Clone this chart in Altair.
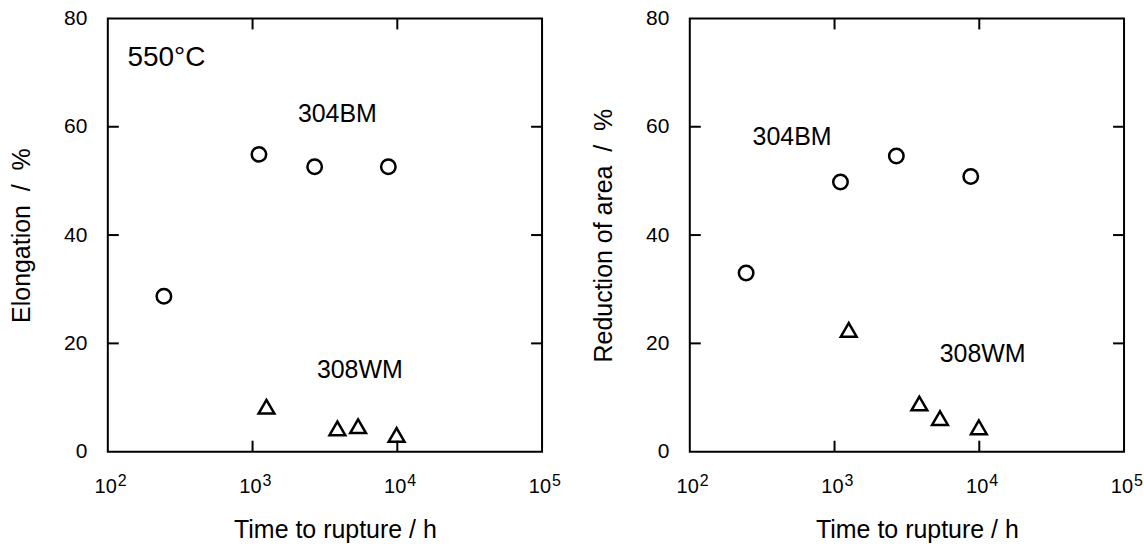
import altair as alt
import pandas as pd

# Creep rupture ductility at 550 degC: type 304 base metal (BM) and type 308 weld metal (WM)
bm_time_el = [244, 1107, 2685, 8670]
bm_elong = [28.7, 54.9, 52.6, 52.6]
wm_time_el = [1248, 3855, 5360, 9885]
wm_elong = [8.3, 4.3, 4.7, 3.1]

bm_time_ra = [245, 1099, 2673, 8730]
bm_ra = [33.0, 49.8, 54.6, 50.8]
wm_time_ra = [1253, 3855, 5350, 9930]
wm_ra = [22.5, 8.9, 6.2, 4.5]

decades = [100, 1000, 10000, 100000]
exponents = ["2", "3", "4", "5"]
x_inner_ticks = [1000, 10000]
y_inner_ticks = [20, 40, 60]
y_label_values = [0, 20, 40, 60, 80]

# annotation text: label, x (h), y (%), font size
notes_el = {"label": ["550°C", "304BM", "308WM"], "t": [254, 3855, 5510],
            "v": [72.7, 62.3, 15.1], "fs": [28, 25, 25]}
notes_ra = {"label": ["304BM", "308WM"], "t": [509, 10544],
            "v": [58.1, 18.0], "fs": [25, 25]}

FONT = "Liberation Sans"
W, H = 435, 434
TICK = 11


def panel(bm_t, bm_v, wm_t, wm_v, y_title, notes):
    xs = alt.Scale(type="log", domain=[100, 100000], nice=False)
    ys = alt.Scale(domain=[0, 80], nice=False)

    x_axis = alt.Axis(labels=False, ticks=False, tickSize=0, domain=False, grid=False,
                      title="Time to rupture / h", titleFont=FONT, titleFontSize=25,
                      titleFontWeight="normal", titleColor="black", titlePadding=66,
                      titleX=W / 2 + 10)
    y_axis = alt.Axis(values=y_label_values, ticks=False, tickSize=0, domain=False,
                      grid=False, labelFont=FONT, labelFontSize=21, labelColor="black",
                      labelPadding=21, title=y_title, titleFont=FONT, titleFontSize=25,
                      titleFontWeight="normal", titleColor="black", titlePadding=29)

    def X(field):
        return alt.X(field, scale=xs, axis=x_axis, title="Time to rupture / h")

    def Y(field):
        return alt.Y(field, scale=ys, axis=y_axis, title=y_title)

    bm = pd.DataFrame({"t": bm_t, "v": bm_v})
    wm = pd.DataFrame({"t": wm_t, "v": wm_v})

    circles = alt.Chart(bm).mark_point(
        shape="circle", filled=False, color="black", strokeWidth=2.5, size=210, opacity=1
    ).encode(x=X("t:Q"), y=Y("v:Q"))

    triangles = alt.Chart(wm).mark_point(
        shape="triangle-up", filled=False, color="black", strokeWidth=2.5, size=250, opacity=1
    ).encode(x=X("t:Q"), y=Y("v:Q"))

    text = alt.Chart(pd.DataFrame(notes)).mark_text(
        font=FONT, color="black", align="center", baseline="middle"
    ).encode(
        x=X("t:Q"),
        y=Y("v:Q"),
        text="label:N",
        size=alt.Size("fs:Q", scale=None, legend=None),
    )

    # inward tick marks on all four sides of the frame
    xt = pd.DataFrame({"t": x_inner_ticks})
    yt = pd.DataFrame({"v": y_inner_ticks})
    rule = dict(color="black", strokeWidth=2)
    tick_b = alt.Chart(xt).mark_rule(**rule).encode(
        x=X("t:Q"), y=alt.value(H), y2=alt.value(H - TICK))
    tick_t = alt.Chart(xt).mark_rule(**rule).encode(
        x=X("t:Q"), y=alt.value(0), y2=alt.value(TICK))
    tick_l = alt.Chart(yt).mark_rule(**rule).encode(
        y=Y("v:Q"), x=alt.value(0), x2=alt.value(TICK))
    tick_r = alt.Chart(yt).mark_rule(**rule).encode(
        y=Y("v:Q"), x=alt.value(W - TICK), x2=alt.value(W))

    # power-of-ten labels drawn as base plus raised exponent
    dec = pd.DataFrame({"t": decades, "base": ["10"] * len(decades), "e": exponents})
    base_lbl = alt.Chart(dec).mark_text(
        font=FONT, fontSize=20, color="black", align="right", baseline="alphabetic", dx=9
    ).encode(x=X("t:Q"), y=alt.value(H + 41), text="base:N")
    exp_lbl = alt.Chart(dec).mark_text(
        font=FONT, fontSize=16, color="black", align="left", baseline="alphabetic", dx=10
    ).encode(x=X("t:Q"), y=alt.value(H + 34), text="e:N")

    return alt.layer(circles, triangles, text, tick_b, tick_t, tick_l, tick_r,
                     base_lbl, exp_lbl).properties(width=W, height=H)


left = panel(bm_time_el, bm_elong, wm_time_el, wm_elong,
             "Elongation\u00a0\u00a0/\u00a0\u00a0%", notes_el)
right = panel(bm_time_ra, bm_ra, wm_time_ra, wm_ra,
              "Reduction of area\u00a0\u00a0/\u00a0\u00a0%", notes_ra)

chart = alt.hconcat(left, right, spacing=28).properties(
    padding={"left": 8, "top": 6, "right": 0, "bottom": 0},
    background="white",
).configure(font=FONT).configure_view(stroke="black", strokeWidth=2)

chart.save("out.html", embed_options={"renderer": "svg", "actions": False})
